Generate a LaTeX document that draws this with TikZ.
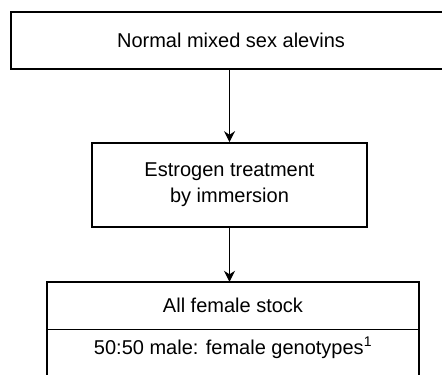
\documentclass[tikz,border=0pt]{standalone}
\usepackage{fontspec}
\setmainfont{Liberation Sans}
\usetikzlibrary{arrows.meta}

\begin{document}
\begin{tikzpicture}[x=1pt,y=-1pt,
  box/.style={draw,line width=1.6pt,inner sep=0pt,align=center,font=\fontsize{20}{26}\selectfont},
  cell/.style={inner sep=0pt,align=center,font=\fontsize{20}{26}\selectfont},
  flow/.style={-{Stealth[length=11pt,width=11pt]},line width=1.1pt}]
\clip (0,0) rectangle (442,375);
\node[box,minimum width=470pt,minimum height=57pt] (alevins) at (246,40.5) {};
\node[cell] (alevinstext) at (231,40.5) {Normal mixed sex alevins};
\node[box,minimum width=275pt,minimum height=84pt] (estrogen) at (229.5,185) {Estrogen treatment\\by immersion};
\node[cell,minimum width=372pt,minimum height=47pt] (stock) at (233,305.5) {All female stock};
\node[cell,minimum width=372pt,minimum height=38pt] (geno) at (233,348) {50:50 male: female genotypes\textsuperscript{1}};
% frame round the last two cells
\draw[line width=1.6pt] (geno.south west) ++(0,30) -- (stock.north west) -- (stock.north east) -- ([yshift=-30pt]geno.south east);
\draw[line width=0.9pt] (stock.south west) -- (stock.south east);
\draw[flow] (alevins.south -| estrogen) -- (estrogen.north);
\draw[flow] (estrogen.south) -- (estrogen.south |- stock.north);
\end{tikzpicture}
\end{document}
